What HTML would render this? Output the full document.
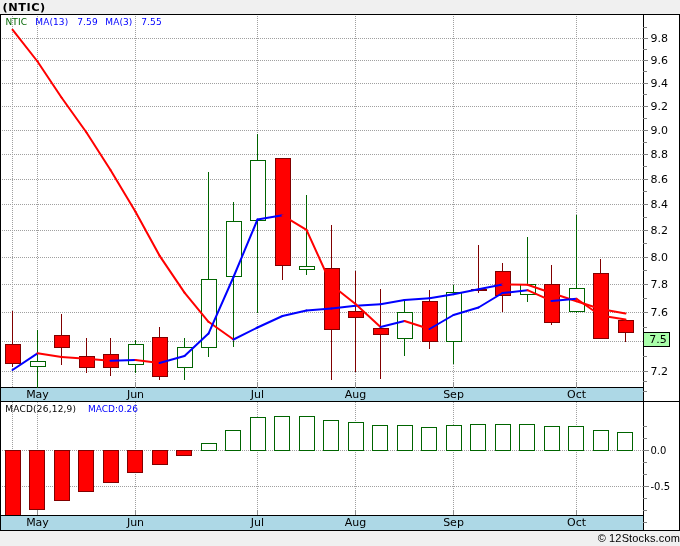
<!DOCTYPE html><html><head><meta charset="utf-8"><title>(NTIC)</title><style>
html,body{margin:0;padding:0;background:#f0f0f0;}svg{display:block}
text{font-family:"DejaVu Sans","Liberation Sans",sans-serif;}
</style></head><body>
<svg width="680" height="546" viewBox="0 0 680 546">
<rect x="0" y="0" width="680" height="546" fill="#f0f0f0"/>
<rect x="0" y="14" width="680" height="517" fill="#ffffff"/>
<g shape-rendering="crispEdges">
<line x1="0" y1="38.5" x2="643" y2="38.5" stroke="#a0a0a0" stroke-width="1" stroke-dasharray="1,1"/>
<line x1="0" y1="60.5" x2="643" y2="60.5" stroke="#a0a0a0" stroke-width="1" stroke-dasharray="1,1"/>
<line x1="0" y1="83.5" x2="643" y2="83.5" stroke="#a0a0a0" stroke-width="1" stroke-dasharray="1,1"/>
<line x1="0" y1="106.5" x2="643" y2="106.5" stroke="#a0a0a0" stroke-width="1" stroke-dasharray="1,1"/>
<line x1="0" y1="130.5" x2="643" y2="130.5" stroke="#a0a0a0" stroke-width="1" stroke-dasharray="1,1"/>
<line x1="0" y1="154.5" x2="643" y2="154.5" stroke="#a0a0a0" stroke-width="1" stroke-dasharray="1,1"/>
<line x1="0" y1="179.5" x2="643" y2="179.5" stroke="#a0a0a0" stroke-width="1" stroke-dasharray="1,1"/>
<line x1="0" y1="204.5" x2="643" y2="204.5" stroke="#a0a0a0" stroke-width="1" stroke-dasharray="1,1"/>
<line x1="0" y1="230.5" x2="643" y2="230.5" stroke="#a0a0a0" stroke-width="1" stroke-dasharray="1,1"/>
<line x1="0" y1="257.5" x2="643" y2="257.5" stroke="#a0a0a0" stroke-width="1" stroke-dasharray="1,1"/>
<line x1="0" y1="284.5" x2="643" y2="284.5" stroke="#a0a0a0" stroke-width="1" stroke-dasharray="1,1"/>
<line x1="0" y1="312.5" x2="643" y2="312.5" stroke="#a0a0a0" stroke-width="1" stroke-dasharray="1,1"/>
<line x1="0" y1="341.5" x2="643" y2="341.5" stroke="#a0a0a0" stroke-width="1" stroke-dasharray="1,1"/>
<line x1="0" y1="371.5" x2="643" y2="371.5" stroke="#a0a0a0" stroke-width="1" stroke-dasharray="1,1"/>
<line x1="12.5" y1="14" x2="12.5" y2="387" stroke="#a0a0a0" stroke-width="1" stroke-dasharray="1,1"/>
<line x1="12.5" y1="402" x2="12.5" y2="515" stroke="#a0a0a0" stroke-width="1" stroke-dasharray="1,1"/>
<line x1="37.5" y1="14" x2="37.5" y2="387" stroke="#a0a0a0" stroke-width="1" stroke-dasharray="1,1"/>
<line x1="37.5" y1="402" x2="37.5" y2="515" stroke="#a0a0a0" stroke-width="1" stroke-dasharray="1,1"/>
<line x1="135.5" y1="14" x2="135.5" y2="387" stroke="#a0a0a0" stroke-width="1" stroke-dasharray="1,1"/>
<line x1="135.5" y1="402" x2="135.5" y2="515" stroke="#a0a0a0" stroke-width="1" stroke-dasharray="1,1"/>
<line x1="257.5" y1="14" x2="257.5" y2="387" stroke="#a0a0a0" stroke-width="1" stroke-dasharray="1,1"/>
<line x1="257.5" y1="402" x2="257.5" y2="515" stroke="#a0a0a0" stroke-width="1" stroke-dasharray="1,1"/>
<line x1="355.5" y1="14" x2="355.5" y2="387" stroke="#a0a0a0" stroke-width="1" stroke-dasharray="1,1"/>
<line x1="355.5" y1="402" x2="355.5" y2="515" stroke="#a0a0a0" stroke-width="1" stroke-dasharray="1,1"/>
<line x1="453.5" y1="14" x2="453.5" y2="387" stroke="#a0a0a0" stroke-width="1" stroke-dasharray="1,1"/>
<line x1="453.5" y1="402" x2="453.5" y2="515" stroke="#a0a0a0" stroke-width="1" stroke-dasharray="1,1"/>
<line x1="576.5" y1="14" x2="576.5" y2="387" stroke="#a0a0a0" stroke-width="1" stroke-dasharray="1,1"/>
<line x1="576.5" y1="402" x2="576.5" y2="515" stroke="#a0a0a0" stroke-width="1" stroke-dasharray="1,1"/>
<line x1="0" y1="450.5" x2="643" y2="450.5" stroke="#a0a0a0" stroke-width="1" stroke-dasharray="1,1"/>
<line x1="0" y1="486.5" x2="643" y2="486.5" stroke="#a0a0a0" stroke-width="1" stroke-dasharray="1,1"/>
<rect x="1" y="387" width="642" height="15" fill="#add8e6"/>
<rect x="1" y="515" width="642" height="15" fill="#add8e6"/>
<line x1="0" y1="387.5" x2="643" y2="387.5" stroke="#000" stroke-width="1"/>
<line x1="0" y1="401.5" x2="680" y2="401.5" stroke="#000" stroke-width="1"/>
<line x1="0" y1="515.5" x2="643" y2="515.5" stroke="#000" stroke-width="1"/>
<line x1="37.5" y1="510" x2="37.5" y2="516" stroke="#909090" stroke-width="1"/>
<line x1="37.5" y1="382" x2="37.5" y2="388" stroke="#909090" stroke-width="1"/>
<line x1="135.5" y1="510" x2="135.5" y2="516" stroke="#909090" stroke-width="1"/>
<line x1="135.5" y1="382" x2="135.5" y2="388" stroke="#909090" stroke-width="1"/>
<line x1="257.5" y1="510" x2="257.5" y2="516" stroke="#909090" stroke-width="1"/>
<line x1="257.5" y1="382" x2="257.5" y2="388" stroke="#909090" stroke-width="1"/>
<line x1="355.5" y1="510" x2="355.5" y2="516" stroke="#909090" stroke-width="1"/>
<line x1="355.5" y1="382" x2="355.5" y2="388" stroke="#909090" stroke-width="1"/>
<line x1="453.5" y1="510" x2="453.5" y2="516" stroke="#909090" stroke-width="1"/>
<line x1="453.5" y1="382" x2="453.5" y2="388" stroke="#909090" stroke-width="1"/>
<line x1="576.5" y1="510" x2="576.5" y2="516" stroke="#909090" stroke-width="1"/>
<line x1="576.5" y1="382" x2="576.5" y2="388" stroke="#909090" stroke-width="1"/>
<line x1="12.5" y1="311" x2="12.5" y2="367" stroke="#800000" stroke-width="1"/>
<rect x="5.5" y="344.5" width="15" height="19" fill="#ff0000" stroke="#800000" stroke-width="1"/>
<line x1="37.5" y1="330" x2="37.5" y2="388" stroke="#006400" stroke-width="1"/>
<rect x="30.5" y="361.5" width="15" height="5" fill="#ffffff" stroke="#006400" stroke-width="1"/>
<line x1="61.5" y1="314" x2="61.5" y2="365" stroke="#800000" stroke-width="1"/>
<rect x="54.5" y="335.5" width="15" height="12" fill="#ff0000" stroke="#800000" stroke-width="1"/>
<line x1="86.5" y1="338" x2="86.5" y2="373" stroke="#800000" stroke-width="1"/>
<rect x="79.5" y="356.5" width="15" height="11" fill="#ff0000" stroke="#800000" stroke-width="1"/>
<line x1="110.5" y1="338" x2="110.5" y2="376" stroke="#800000" stroke-width="1"/>
<rect x="103.5" y="354.5" width="15" height="13" fill="#ff0000" stroke="#800000" stroke-width="1"/>
<line x1="135.5" y1="340" x2="135.5" y2="373" stroke="#006400" stroke-width="1"/>
<rect x="128.5" y="344.5" width="15" height="20" fill="#ffffff" stroke="#006400" stroke-width="1"/>
<line x1="159.5" y1="327" x2="159.5" y2="380" stroke="#800000" stroke-width="1"/>
<rect x="152.5" y="337.5" width="15" height="39" fill="#ff0000" stroke="#800000" stroke-width="1"/>
<line x1="184.5" y1="338" x2="184.5" y2="380" stroke="#006400" stroke-width="1"/>
<rect x="177.5" y="347.5" width="15" height="20" fill="#ffffff" stroke="#006400" stroke-width="1"/>
<line x1="208.5" y1="172" x2="208.5" y2="357" stroke="#006400" stroke-width="1"/>
<rect x="201.5" y="279.5" width="15" height="68" fill="#ffffff" stroke="#006400" stroke-width="1"/>
<line x1="233.5" y1="202" x2="233.5" y2="347" stroke="#006400" stroke-width="1"/>
<rect x="226.5" y="221.5" width="15" height="55" fill="#ffffff" stroke="#006400" stroke-width="1"/>
<line x1="257.5" y1="134" x2="257.5" y2="313" stroke="#006400" stroke-width="1"/>
<rect x="250.5" y="160.5" width="15" height="60" fill="#ffffff" stroke="#006400" stroke-width="1"/>
<line x1="282.5" y1="158" x2="282.5" y2="280" stroke="#800000" stroke-width="1"/>
<rect x="275.5" y="158.5" width="15" height="107" fill="#ff0000" stroke="#800000" stroke-width="1"/>
<line x1="306.5" y1="195" x2="306.5" y2="275" stroke="#006400" stroke-width="1"/>
<rect x="299.5" y="266.5" width="15" height="3" fill="#ffffff" stroke="#006400" stroke-width="1"/>
<line x1="331.5" y1="225" x2="331.5" y2="380" stroke="#800000" stroke-width="1"/>
<rect x="324.5" y="268.5" width="15" height="61" fill="#ff0000" stroke="#800000" stroke-width="1"/>
<line x1="355.5" y1="271" x2="355.5" y2="372" stroke="#800000" stroke-width="1"/>
<rect x="348.5" y="311.5" width="15" height="6" fill="#ff0000" stroke="#800000" stroke-width="1"/>
<line x1="380.5" y1="289" x2="380.5" y2="379" stroke="#800000" stroke-width="1"/>
<rect x="373.5" y="328.5" width="15" height="6" fill="#ff0000" stroke="#800000" stroke-width="1"/>
<line x1="404.5" y1="301" x2="404.5" y2="356" stroke="#006400" stroke-width="1"/>
<rect x="397.5" y="312.5" width="15" height="26" fill="#ffffff" stroke="#006400" stroke-width="1"/>
<line x1="429.5" y1="290" x2="429.5" y2="349" stroke="#800000" stroke-width="1"/>
<rect x="422.5" y="301.5" width="15" height="40" fill="#ff0000" stroke="#800000" stroke-width="1"/>
<line x1="453.5" y1="285" x2="453.5" y2="364" stroke="#006400" stroke-width="1"/>
<rect x="446.5" y="292.5" width="15" height="49" fill="#ffffff" stroke="#006400" stroke-width="1"/>
<line x1="478.5" y1="245" x2="478.5" y2="293" stroke="#800000" stroke-width="1"/>
<rect x="471.5" y="289.5" width="15" height="1" fill="#ff0000" stroke="#800000" stroke-width="1"/>
<line x1="502.5" y1="263" x2="502.5" y2="312" stroke="#800000" stroke-width="1"/>
<rect x="495.5" y="271.5" width="15" height="24" fill="#ff0000" stroke="#800000" stroke-width="1"/>
<line x1="527.5" y1="237" x2="527.5" y2="302" stroke="#006400" stroke-width="1"/>
<rect x="520.5" y="284.5" width="15" height="10" fill="#ffffff" stroke="#006400" stroke-width="1"/>
<line x1="551.5" y1="265" x2="551.5" y2="325" stroke="#800000" stroke-width="1"/>
<rect x="544.5" y="284.5" width="15" height="38" fill="#ff0000" stroke="#800000" stroke-width="1"/>
<line x1="576.5" y1="215" x2="576.5" y2="313" stroke="#006400" stroke-width="1"/>
<rect x="569.5" y="288.5" width="15" height="23" fill="#ffffff" stroke="#006400" stroke-width="1"/>
<line x1="600.5" y1="259" x2="600.5" y2="339" stroke="#800000" stroke-width="1"/>
<rect x="593.5" y="273.5" width="15" height="65" fill="#ff0000" stroke="#800000" stroke-width="1"/>
<line x1="625.5" y1="320" x2="625.5" y2="342" stroke="#800000" stroke-width="1"/>
<rect x="618.5" y="320.5" width="15" height="12" fill="#ff0000" stroke="#800000" stroke-width="1"/>
<rect x="5.5" y="450.5" width="15" height="66" fill="#ff0000" stroke="#800000" stroke-width="1"/>
<rect x="29.5" y="450.5" width="15" height="59" fill="#ff0000" stroke="#800000" stroke-width="1"/>
<rect x="54.5" y="450.5" width="15" height="50" fill="#ff0000" stroke="#800000" stroke-width="1"/>
<rect x="78.5" y="450.5" width="15" height="41" fill="#ff0000" stroke="#800000" stroke-width="1"/>
<rect x="103.5" y="450.5" width="15" height="32" fill="#ff0000" stroke="#800000" stroke-width="1"/>
<rect x="127.5" y="450.5" width="15" height="22" fill="#ff0000" stroke="#800000" stroke-width="1"/>
<rect x="152.5" y="450.5" width="15" height="14" fill="#ff0000" stroke="#800000" stroke-width="1"/>
<rect x="176.5" y="450.5" width="15" height="5" fill="#ff0000" stroke="#800000" stroke-width="1"/>
<rect x="201.5" y="443.5" width="15" height="7" fill="#ffffff" stroke="#006400" stroke-width="1"/>
<rect x="225.5" y="430.5" width="15" height="20" fill="#ffffff" stroke="#006400" stroke-width="1"/>
<rect x="250.5" y="417.5" width="15" height="33" fill="#ffffff" stroke="#006400" stroke-width="1"/>
<rect x="274.5" y="416.5" width="15" height="34" fill="#ffffff" stroke="#006400" stroke-width="1"/>
<rect x="299.5" y="416.5" width="15" height="34" fill="#ffffff" stroke="#006400" stroke-width="1"/>
<rect x="323.5" y="420.5" width="15" height="30" fill="#ffffff" stroke="#006400" stroke-width="1"/>
<rect x="348.5" y="422.5" width="15" height="28" fill="#ffffff" stroke="#006400" stroke-width="1"/>
<rect x="372.5" y="425.5" width="15" height="25" fill="#ffffff" stroke="#006400" stroke-width="1"/>
<rect x="397.5" y="425.5" width="15" height="25" fill="#ffffff" stroke="#006400" stroke-width="1"/>
<rect x="421.5" y="427.5" width="15" height="23" fill="#ffffff" stroke="#006400" stroke-width="1"/>
<rect x="446.5" y="425.5" width="15" height="25" fill="#ffffff" stroke="#006400" stroke-width="1"/>
<rect x="470.5" y="424.5" width="15" height="26" fill="#ffffff" stroke="#006400" stroke-width="1"/>
<rect x="495.5" y="424.5" width="15" height="26" fill="#ffffff" stroke="#006400" stroke-width="1"/>
<rect x="519.5" y="424.5" width="15" height="26" fill="#ffffff" stroke="#006400" stroke-width="1"/>
<rect x="544.5" y="426.5" width="15" height="24" fill="#ffffff" stroke="#006400" stroke-width="1"/>
<rect x="568.5" y="426.5" width="15" height="24" fill="#ffffff" stroke="#006400" stroke-width="1"/>
<rect x="593.5" y="430.5" width="15" height="20" fill="#ffffff" stroke="#006400" stroke-width="1"/>
<rect x="617.5" y="432.5" width="15" height="18" fill="#ffffff" stroke="#006400" stroke-width="1"/>
<rect x="1" y="516" width="642" height="14" fill="#add8e6"/>
<line x1="0" y1="515.5" x2="643" y2="515.5" stroke="#000" stroke-width="1"/>
<line x1="0" y1="14.5" x2="680" y2="14.5" stroke="#000" stroke-width="1"/>
<line x1="0" y1="530.5" x2="680" y2="530.5" stroke="#000" stroke-width="1"/>
<line x1="0.5" y1="14" x2="0.5" y2="531" stroke="#000" stroke-width="1"/>
<line x1="679.5" y1="14" x2="679.5" y2="531" stroke="#000" stroke-width="1"/>
<line x1="643.5" y1="14" x2="643.5" y2="531" stroke="#000" stroke-width="1"/>
<line x1="643" y1="38.5" x2="648" y2="38.5" stroke="#808080" stroke-width="1"/>
<line x1="643" y1="60.5" x2="648" y2="60.5" stroke="#808080" stroke-width="1"/>
<line x1="643" y1="83.5" x2="648" y2="83.5" stroke="#808080" stroke-width="1"/>
<line x1="643" y1="106.5" x2="648" y2="106.5" stroke="#808080" stroke-width="1"/>
<line x1="643" y1="130.5" x2="648" y2="130.5" stroke="#808080" stroke-width="1"/>
<line x1="643" y1="154.5" x2="648" y2="154.5" stroke="#808080" stroke-width="1"/>
<line x1="643" y1="179.5" x2="648" y2="179.5" stroke="#808080" stroke-width="1"/>
<line x1="643" y1="204.5" x2="648" y2="204.5" stroke="#808080" stroke-width="1"/>
<line x1="643" y1="230.5" x2="648" y2="230.5" stroke="#808080" stroke-width="1"/>
<line x1="643" y1="257.5" x2="648" y2="257.5" stroke="#808080" stroke-width="1"/>
<line x1="643" y1="284.5" x2="648" y2="284.5" stroke="#808080" stroke-width="1"/>
<line x1="643" y1="312.5" x2="648" y2="312.5" stroke="#808080" stroke-width="1"/>
<line x1="643" y1="341.5" x2="648" y2="341.5" stroke="#808080" stroke-width="1"/>
<line x1="643" y1="371.5" x2="648" y2="371.5" stroke="#808080" stroke-width="1"/>
<line x1="643" y1="27.5" x2="647" y2="27.5" stroke="#808080" stroke-width="1"/>
<line x1="643" y1="49.5" x2="647" y2="49.5" stroke="#808080" stroke-width="1"/>
<line x1="643" y1="71.5" x2="647" y2="71.5" stroke="#808080" stroke-width="1"/>
<line x1="643" y1="94.5" x2="647" y2="94.5" stroke="#808080" stroke-width="1"/>
<line x1="643" y1="118.5" x2="647" y2="118.5" stroke="#808080" stroke-width="1"/>
<line x1="643" y1="142.5" x2="647" y2="142.5" stroke="#808080" stroke-width="1"/>
<line x1="643" y1="166.5" x2="647" y2="166.5" stroke="#808080" stroke-width="1"/>
<line x1="643" y1="191.5" x2="647" y2="191.5" stroke="#808080" stroke-width="1"/>
<line x1="643" y1="217.5" x2="647" y2="217.5" stroke="#808080" stroke-width="1"/>
<line x1="643" y1="243.5" x2="647" y2="243.5" stroke="#808080" stroke-width="1"/>
<line x1="643" y1="270.5" x2="647" y2="270.5" stroke="#808080" stroke-width="1"/>
<line x1="643" y1="298.5" x2="647" y2="298.5" stroke="#808080" stroke-width="1"/>
<line x1="643" y1="327.5" x2="647" y2="327.5" stroke="#808080" stroke-width="1"/>
<line x1="643" y1="356.5" x2="647" y2="356.5" stroke="#808080" stroke-width="1"/>
<line x1="643" y1="381.5" x2="647" y2="381.5" stroke="#808080" stroke-width="1"/>
<line x1="643" y1="391.5" x2="647" y2="391.5" stroke="#808080" stroke-width="1"/>
<line x1="643" y1="426.5" x2="647" y2="426.5" stroke="#808080" stroke-width="1"/>
<line x1="643" y1="438.5" x2="647" y2="438.5" stroke="#808080" stroke-width="1"/>
<line x1="643" y1="450.5" x2="649" y2="450.5" stroke="#808080" stroke-width="1"/>
<line x1="643" y1="462.5" x2="647" y2="462.5" stroke="#808080" stroke-width="1"/>
<line x1="643" y1="474.5" x2="647" y2="474.5" stroke="#808080" stroke-width="1"/>
<line x1="643" y1="486.5" x2="649" y2="486.5" stroke="#808080" stroke-width="1"/>
<line x1="643" y1="498.5" x2="647" y2="498.5" stroke="#808080" stroke-width="1"/>
<line x1="643" y1="510.5" x2="647" y2="510.5" stroke="#808080" stroke-width="1"/>
<line x1="643" y1="522.5" x2="647" y2="522.5" stroke="#808080" stroke-width="1"/>
</g>
<line x1="12.5" y1="29.7" x2="37.5" y2="61.5" stroke="#ff0000" stroke-width="2" stroke-linecap="round"/>
<line x1="37.5" y1="61.5" x2="61.5" y2="97.5" stroke="#ff0000" stroke-width="2" stroke-linecap="round"/>
<line x1="61.5" y1="97.5" x2="86.5" y2="132.5" stroke="#ff0000" stroke-width="2" stroke-linecap="round"/>
<line x1="86.5" y1="132.5" x2="110.5" y2="170" stroke="#ff0000" stroke-width="2" stroke-linecap="round"/>
<line x1="110.5" y1="170" x2="135.5" y2="211.8" stroke="#ff0000" stroke-width="2" stroke-linecap="round"/>
<line x1="135.5" y1="211.8" x2="159.5" y2="255.6" stroke="#ff0000" stroke-width="2" stroke-linecap="round"/>
<line x1="159.5" y1="255.6" x2="184.5" y2="292.6" stroke="#ff0000" stroke-width="2" stroke-linecap="round"/>
<line x1="184.5" y1="292.6" x2="208.5" y2="321.8" stroke="#ff0000" stroke-width="2" stroke-linecap="round"/>
<line x1="208.5" y1="321.8" x2="233.5" y2="339.5" stroke="#ff0000" stroke-width="2" stroke-linecap="round"/>
<line x1="233.5" y1="339.5" x2="257.5" y2="327.5" stroke="#0000ff" stroke-width="2" stroke-linecap="round"/>
<line x1="257.5" y1="327.5" x2="282.5" y2="316" stroke="#0000ff" stroke-width="2" stroke-linecap="round"/>
<line x1="282.5" y1="316" x2="306.5" y2="310.5" stroke="#0000ff" stroke-width="2" stroke-linecap="round"/>
<line x1="306.5" y1="310.5" x2="331.5" y2="308.5" stroke="#0000ff" stroke-width="2" stroke-linecap="round"/>
<line x1="331.5" y1="308.5" x2="355.5" y2="305.7" stroke="#0000ff" stroke-width="2" stroke-linecap="round"/>
<line x1="355.5" y1="305.7" x2="380.5" y2="304.2" stroke="#0000ff" stroke-width="2" stroke-linecap="round"/>
<line x1="380.5" y1="304.2" x2="404.5" y2="300" stroke="#0000ff" stroke-width="2" stroke-linecap="round"/>
<line x1="404.5" y1="300" x2="429.5" y2="298.2" stroke="#0000ff" stroke-width="2" stroke-linecap="round"/>
<line x1="429.5" y1="298.2" x2="453.5" y2="294.3" stroke="#0000ff" stroke-width="2" stroke-linecap="round"/>
<line x1="453.5" y1="294.3" x2="478.5" y2="289.3" stroke="#0000ff" stroke-width="2" stroke-linecap="round"/>
<line x1="478.5" y1="289.3" x2="502.5" y2="284.4" stroke="#0000ff" stroke-width="2" stroke-linecap="round"/>
<line x1="502.5" y1="284.4" x2="527.5" y2="284.8" stroke="#ff0000" stroke-width="2" stroke-linecap="round"/>
<line x1="527.5" y1="284.8" x2="551.5" y2="293" stroke="#ff0000" stroke-width="2" stroke-linecap="round"/>
<line x1="551.5" y1="293" x2="576.5" y2="301.3" stroke="#ff0000" stroke-width="2" stroke-linecap="round"/>
<line x1="576.5" y1="301.3" x2="600.5" y2="309" stroke="#ff0000" stroke-width="2" stroke-linecap="round"/>
<line x1="600.5" y1="309" x2="625.5" y2="313.6" stroke="#ff0000" stroke-width="2" stroke-linecap="round"/>
<line x1="12.5" y1="370" x2="37.5" y2="353.3" stroke="#0000ff" stroke-width="2" stroke-linecap="round"/>
<line x1="37.5" y1="353.3" x2="61.5" y2="357" stroke="#ff0000" stroke-width="2" stroke-linecap="round"/>
<line x1="61.5" y1="357" x2="86.5" y2="358.75" stroke="#ff0000" stroke-width="2" stroke-linecap="round"/>
<line x1="86.5" y1="358.75" x2="110.5" y2="360.75" stroke="#ff0000" stroke-width="2" stroke-linecap="round"/>
<line x1="110.5" y1="360.75" x2="135.5" y2="360" stroke="#0000ff" stroke-width="2" stroke-linecap="round"/>
<line x1="135.5" y1="360" x2="159.5" y2="363" stroke="#ff0000" stroke-width="2" stroke-linecap="round"/>
<line x1="159.5" y1="363" x2="184.5" y2="356" stroke="#0000ff" stroke-width="2" stroke-linecap="round"/>
<line x1="184.5" y1="356" x2="208.5" y2="333.6" stroke="#0000ff" stroke-width="2" stroke-linecap="round"/>
<line x1="208.5" y1="333.6" x2="233.5" y2="277" stroke="#0000ff" stroke-width="2" stroke-linecap="round"/>
<line x1="233.5" y1="277" x2="257.5" y2="219.5" stroke="#0000ff" stroke-width="2" stroke-linecap="round"/>
<line x1="257.5" y1="219.5" x2="282.5" y2="215.3" stroke="#0000ff" stroke-width="2" stroke-linecap="round"/>
<line x1="282.5" y1="215.3" x2="306.5" y2="229.8" stroke="#ff0000" stroke-width="2" stroke-linecap="round"/>
<line x1="306.5" y1="229.8" x2="331.5" y2="285" stroke="#ff0000" stroke-width="2" stroke-linecap="round"/>
<line x1="331.5" y1="285" x2="355.5" y2="304" stroke="#ff0000" stroke-width="2" stroke-linecap="round"/>
<line x1="355.5" y1="304" x2="380.5" y2="327" stroke="#ff0000" stroke-width="2" stroke-linecap="round"/>
<line x1="380.5" y1="327" x2="404.5" y2="321" stroke="#0000ff" stroke-width="2" stroke-linecap="round"/>
<line x1="404.5" y1="321" x2="429.5" y2="329" stroke="#ff0000" stroke-width="2" stroke-linecap="round"/>
<line x1="429.5" y1="329" x2="453.5" y2="315" stroke="#0000ff" stroke-width="2" stroke-linecap="round"/>
<line x1="453.5" y1="315" x2="478.5" y2="307.5" stroke="#0000ff" stroke-width="2" stroke-linecap="round"/>
<line x1="478.5" y1="307.5" x2="502.5" y2="293" stroke="#0000ff" stroke-width="2" stroke-linecap="round"/>
<line x1="502.5" y1="293" x2="527.5" y2="290.2" stroke="#0000ff" stroke-width="2" stroke-linecap="round"/>
<line x1="527.5" y1="290.2" x2="551.5" y2="300.9" stroke="#ff0000" stroke-width="2" stroke-linecap="round"/>
<line x1="551.5" y1="300.9" x2="576.5" y2="298.8" stroke="#0000ff" stroke-width="2" stroke-linecap="round"/>
<line x1="576.5" y1="298.8" x2="600.5" y2="315.5" stroke="#ff0000" stroke-width="2" stroke-linecap="round"/>
<line x1="600.5" y1="315.5" x2="625.5" y2="319.5" stroke="#ff0000" stroke-width="2" stroke-linecap="round"/>
<rect x="643.5" y="332.5" width="26" height="14" fill="#aaffaa" stroke="#000" stroke-width="1" shape-rendering="crispEdges"/>
<text x="2.5" y="11" font-size="11.3" font-weight="bold" letter-spacing="0.55" fill="#000">(NTIC)</text>
<g font-size="9">
<text x="5.5" y="25" fill="#006400" letter-spacing="0.1">NTIC</text>
<text x="35.3" y="25" fill="#0000ff" letter-spacing="0.1">MA(13)</text>
<text x="77.3" y="25" fill="#0000ff" letter-spacing="0.1">7.59</text>
<text x="105.3" y="25" fill="#0000ff" letter-spacing="0.1">MA(3)</text>
<text x="141.3" y="25" fill="#0000ff" letter-spacing="0.1">7.55</text>
<text x="5.3" y="412" fill="#000" letter-spacing="0.2">MACD(26,12,9)</text>
<text x="88" y="412" fill="#0000ff">MACD:0.26</text>
</g>
<g font-size="11" fill="#000">
<text x="650.5" y="42">9.8</text>
<text x="650.5" y="64">9.6</text>
<text x="650.5" y="87">9.4</text>
<text x="650.5" y="110">9.2</text>
<text x="650.5" y="134">9.0</text>
<text x="650.5" y="158">8.8</text>
<text x="650.5" y="183">8.6</text>
<text x="650.5" y="208">8.4</text>
<text x="650.5" y="234">8.2</text>
<text x="650.5" y="261">8.0</text>
<text x="650.5" y="288">7.8</text>
<text x="650.5" y="316">7.6</text>
<text x="650.5" y="375">7.2</text>
<text x="649.3" y="343">7.5</text>
</g>
<g font-size="10" fill="#000">
<text x="650.5" y="454">0.0</text>
<text x="650.5" y="490">-0.5</text>
</g>
<g font-size="11" fill="#000" text-anchor="middle">
<text x="37.5" y="398">May</text>
<text x="37.5" y="526">May</text>
<text x="135.5" y="398">Jun</text>
<text x="135.5" y="526">Jun</text>
<text x="257.5" y="398">Jul</text>
<text x="257.5" y="526">Jul</text>
<text x="355.5" y="398">Aug</text>
<text x="355.5" y="526">Aug</text>
<text x="453.5" y="398">Sep</text>
<text x="453.5" y="526">Sep</text>
<text x="576.5" y="398">Oct</text>
<text x="576.5" y="526">Oct</text>
</g>
<text x="680" y="542" font-size="11" letter-spacing="0.15" fill="#000" text-anchor="end" style="font-family:'Liberation Sans',sans-serif">© 12Stocks.com</text>
</svg></body></html>
